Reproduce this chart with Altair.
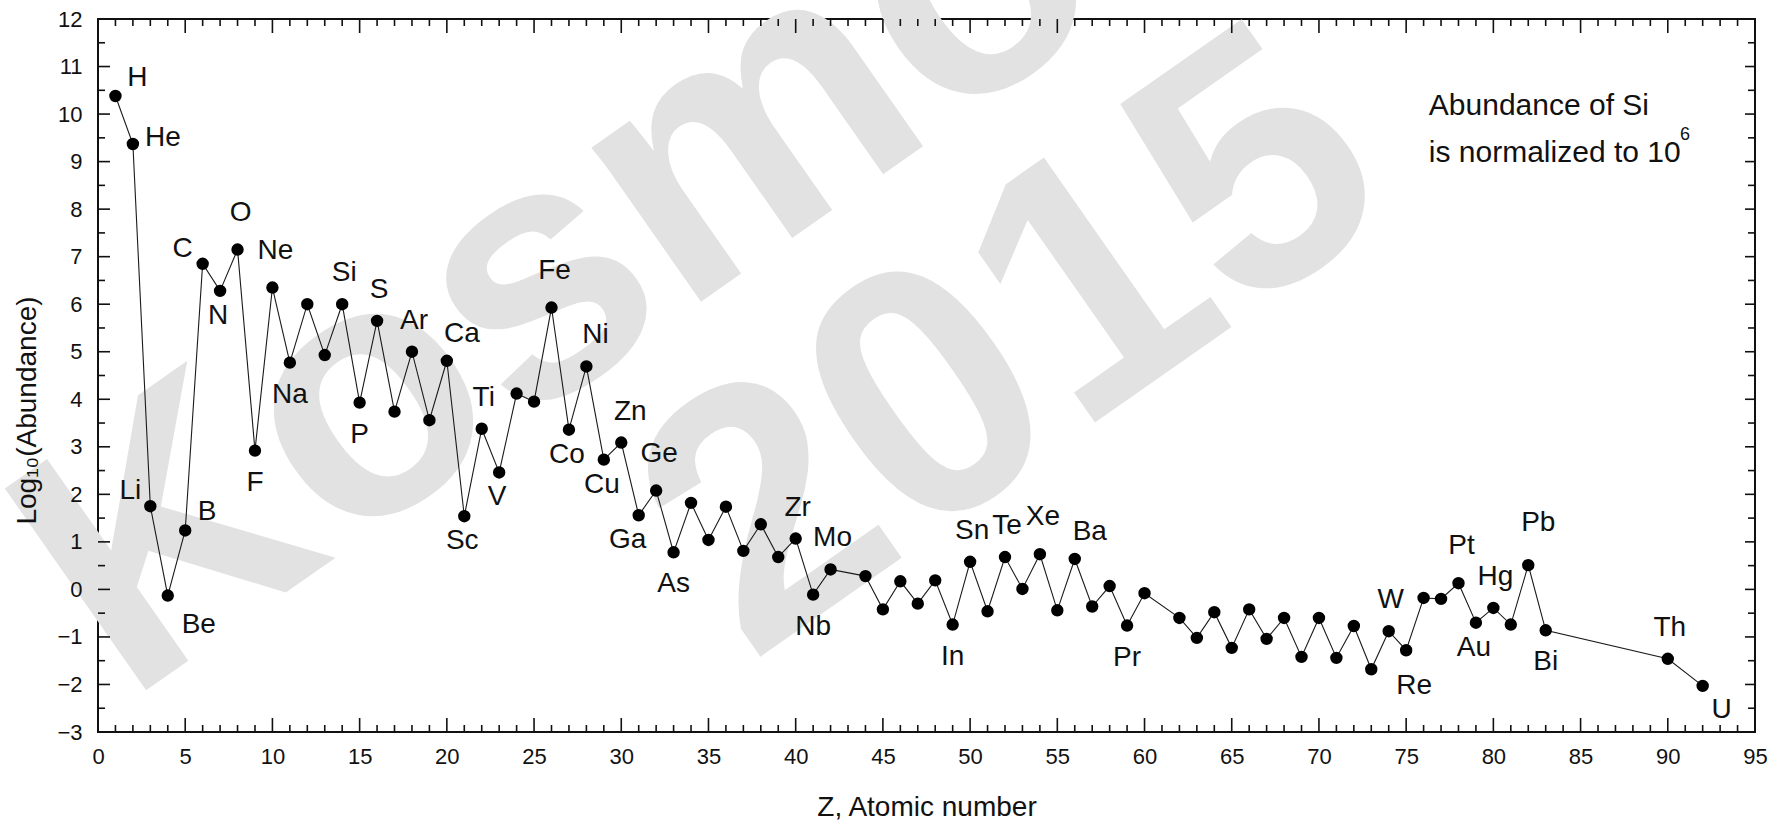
import altair as alt
import pandas as pd

# ---------------- data ----------------
atomic_number = [1, 2, 3, 4, 5, 6, 7, 8, 9, 10, 11, 12, 13, 14, 15, 16, 17, 18, 19, 20,
                 21, 22, 23, 24, 25, 26, 27, 28, 29, 30, 31, 32, 33, 34, 35, 36, 37, 38, 39, 40,
                 41, 42, 44, 45, 46, 47, 48, 49, 50, 51, 52, 53, 54, 55, 56, 57, 58, 59, 60,
                 62, 63, 64, 65, 66, 67, 68, 69, 70, 71, 72, 73, 74, 75, 76, 77, 78, 79, 80,
                 81, 82, 83, 90, 92]
symbols = ["H", "He", "Li", "Be", "B", "C", "N", "O", "F", "Ne", "Na", "Mg", "Al", "Si", "P", "S",
           "Cl", "Ar", "K", "Ca", "Sc", "Ti", "V", "Cr", "Mn", "Fe", "Co", "Ni", "Cu", "Zn", "Ga",
           "Ge", "As", "Se", "Br", "Kr", "Rb", "Sr", "Y", "Zr", "Nb", "Mo", "Ru", "Rh", "Pd", "Ag",
           "Cd", "In", "Sn", "Sb", "Te", "I", "Xe", "Cs", "Ba", "La", "Ce", "Pr", "Nd", "Sm", "Eu",
           "Gd", "Tb", "Dy", "Ho", "Er", "Tm", "Yb", "Lu", "Hf", "Ta", "W", "Re", "Os", "Ir", "Pt",
           "Au", "Hg", "Tl", "Pb", "Bi", "Th", "U"]
log_abundance = [10.38, 9.37, 1.75, -0.13, 1.24, 6.85, 6.28, 7.15, 2.92, 6.35, 4.77, 6.00, 4.93,
                 6.00, 3.93, 5.65, 3.74, 5.00, 3.56, 4.81, 1.54, 3.38, 2.46, 4.12, 3.95, 5.93, 3.36,
                 4.69, 2.73, 3.09, 1.56, 2.08, 0.78, 1.82, 1.04, 1.74, 0.81, 1.37, 0.68, 1.07,
                 -0.11, 0.42, 0.28, -0.42, 0.17, -0.30, 0.19, -0.74, 0.58, -0.46, 0.68, 0.01, 0.74,
                 -0.44, 0.64, -0.36, 0.07, -0.76, -0.08, -0.60, -1.02, -0.48, -1.23, -0.42, -1.04,
                 -0.60, -1.42, -0.60, -1.44, -0.77, -1.68, -0.88, -1.28, -0.18, -0.20, 0.13, -0.70,
                 -0.39, -0.74, 0.51, -0.86, -1.46, -2.03]

# labelled elements and where the label sits relative to its point
labelled = ["H", "He", "Li", "Be", "B", "C", "N", "O", "F", "Ne", "Na", "Si", "P", "S", "Ar", "Ca",
            "Sc", "Ti", "V", "Fe", "Co", "Ni", "Cu", "Zn", "Ga", "Ge", "As", "Zr", "Nb", "Mo", "Sn",
            "In", "Te", "Xe", "Ba", "Pr", "W", "Re", "Pt", "Au", "Hg", "Pb", "Bi", "Th", "U"]
placement = ["ne2", "e", "nw", "se", "ne2", "nw", "s", "nh", "ss", "nh", "ss", "n", "ss", "n", "n", "ne",
             "s", "n", "s", "nh", "s", "nr", "s", "nr", "sw", "nh", "ss", "n", "ss", "n", "n",
             "ss", "n", "nh", "ne", "ss", "n", "sse", "nh", "s", "n", "nne", "ss", "n", "se2"]

x_major = list(range(0, 96, 5))
x_minor = [v for v in range(0, 96) if v % 5 != 0]
y_major = list(range(-3, 13))
y_minor = [v + 0.5 for v in range(-3, 12)]

note_line1 = "Abundance of Si"
note_line2 = "is normalized to 10"
note_sup = "6"
watermark_word = "Kosmos"
watermark_year = "2015"

# ---------------- style ----------------
W, H = 1657, 713
FONT = "Liberation Sans"
offsets = {
    "n": (2, -31), "nr": (9, -31), "nh": (3, -37), "nne": (10, -42), "ne": (15, -27),
    "ne2": (22, -18), "e": (30, -6), "nw": (-20, -15), "s": (-2, 25), "sw": (-11, 25),
    "ss": (0, 32), "se": (31, 29), "se2": (19, 24), "sse": (8, 36),
}

df = pd.DataFrame({"Z": atomic_number, "logA": log_abundance, "sym": symbols})
pos = dict(zip(symbols, zip(atomic_number, log_abundance)))
lab_df = pd.DataFrame({
    "Z": [pos[s][0] for s in labelled],
    "logA": [pos[s][1] for s in labelled],
    "sym": labelled,
    "place": placement,
})

xscale = alt.Scale(domain=[0, 95], nice=False, zero=False)
yscale = alt.Scale(domain=[-3, 12], nice=False, zero=False)
xaxis = alt.Axis(values=x_major, title="Z, Atomic number", grid=False, ticks=False, domain=False,
                 labelFontSize=22, labelFont=FONT, labelColor="#111", labelPadding=14,
                 titleFontSize=28, titleFont=FONT, titleFontWeight="normal", titleColor="#111",
                 titleY=83, titleBaseline="alphabetic", labelFlush=False, zindex=1)
yaxis = alt.Axis(values=y_major, title="Log₁₀(Abundance)", grid=False, ticks=False, domain=False,
                 labelFontSize=22, labelFont=FONT, labelColor="#111", labelPadding=16,
                 titleFontSize=28, titleFont=FONT, titleFontWeight="normal", titleColor="#111",
                 titleAngle=270, titleX=-63, titleY=391, titleAlign="center",
                 titleBaseline="alphabetic", labelFlush=False, zindex=1)

X = alt.X("Z:Q", scale=xscale, axis=xaxis)
Y = alt.Y("logA:Q", scale=yscale, axis=yaxis)

# watermark (drawn first, behind everything)
wm_df = pd.DataFrame({"Z": [34.8, 56.1], "logA": [6.11, 3.24],
                      "txt": [watermark_word, watermark_year]})
watermark = alt.Chart(wm_df).mark_text(
    font=FONT, fontWeight="bold", fontSize=358, angle=325, color="#e2e2e2",
    align="center", baseline="alphabetic"
).encode(x=X, y=Y, text="txt:N")

line = alt.Chart(df).mark_line(color="#1a1a1a", strokeWidth=1.1).encode(x=X, y=Y, order="Z:Q")
points = alt.Chart(df).mark_circle(size=154, color="black", opacity=1).encode(x=X, y=Y)

label_layers = []
for code, (dx, dy) in offsets.items():
    sub = lab_df[lab_df["place"] == code]
    if len(sub) == 0:
        continue
    label_layers.append(
        alt.Chart(sub).mark_text(font=FONT, fontSize=28, color="#111", dx=dx, dy=dy,
                                 align="center", baseline="middle")
        .encode(x=X, y=Y, text="sym:N")
    )

note_df = pd.DataFrame({"Z": [76.3, 76.3], "logA": [10.17, 9.18], "txt": [note_line1, note_line2]})
note = alt.Chart(note_df).mark_text(font=FONT, fontSize=30, color="#111", align="left",
                                    baseline="middle").encode(x=X, y=Y, text="txt:N")
sup_df = pd.DataFrame({"Z": [90.7], "logA": [9.55], "txt": [note_sup]})
sup = alt.Chart(sup_df).mark_text(font=FONT, fontSize=18, color="#111", align="left",
                                  baseline="middle").encode(x=X, y=Y, text="txt:N")

# inward ticks on all four sides
xmaj = pd.DataFrame({"Z": x_major})
xmin = pd.DataFrame({"Z": x_minor})
ymaj = pd.DataFrame({"logA": y_major})
ymin = pd.DataFrame({"logA": y_minor})
tick_style = dict(color="#111", strokeWidth=1.6)
ticks = [
    alt.Chart(xmaj).mark_rule(**tick_style).encode(x=X, y=alt.value(H), y2=alt.value(H - 14)),
    alt.Chart(xmin).mark_rule(**tick_style).encode(x=X, y=alt.value(H), y2=alt.value(H - 7)),
    alt.Chart(xmaj).mark_rule(**tick_style).encode(x=X, y=alt.value(0), y2=alt.value(14)),
    alt.Chart(xmin).mark_rule(**tick_style).encode(x=X, y=alt.value(0), y2=alt.value(7)),
    alt.Chart(ymaj).mark_rule(**tick_style).encode(y=Y, x=alt.value(0), x2=alt.value(12)),
    alt.Chart(ymin).mark_rule(**tick_style).encode(y=Y, x=alt.value(0), x2=alt.value(7)),
    alt.Chart(ymaj).mark_rule(**tick_style).encode(y=Y, x=alt.value(W), x2=alt.value(W - 10)),
    alt.Chart(ymin).mark_rule(**tick_style).encode(y=Y, x=alt.value(W), x2=alt.value(W - 7)),
]

chart = alt.layer(watermark, line, points, *label_layers, note, sup, *ticks).properties(
    width=W, height=H,
    autosize=alt.AutoSizeParams(type="none"),
    padding={"left": 98, "top": 19, "right": 24, "bottom": 88},
    background="white",
).configure_view(stroke="#111", strokeWidth=2)

chart.save("out.html", embed_options={"renderer": "svg", "actions": False})
